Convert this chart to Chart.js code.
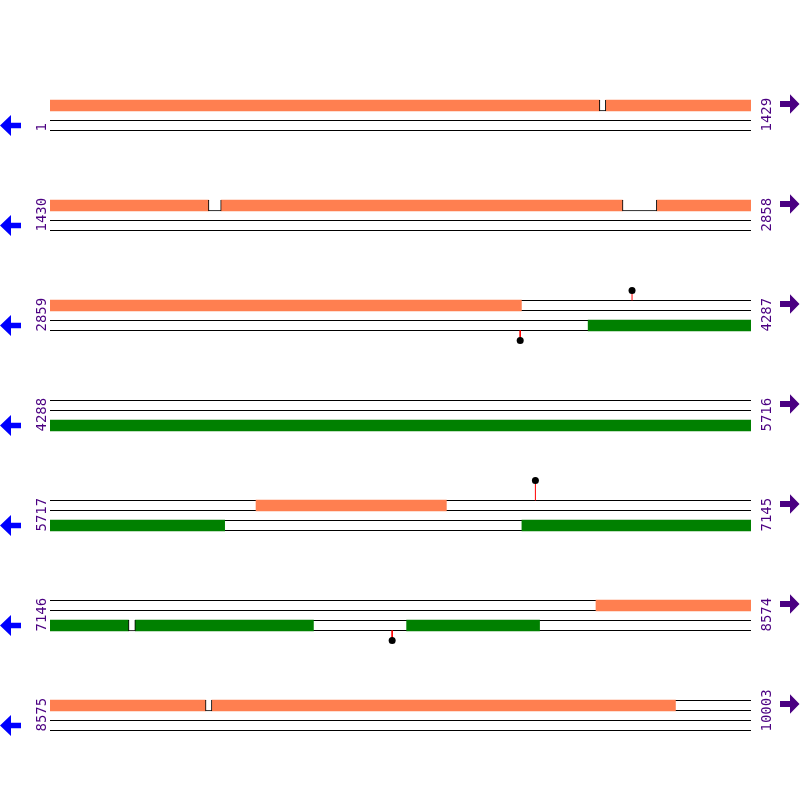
<!DOCTYPE html>
<html><head><meta charset="utf-8">
<script src="https://cdn.jsdelivr.net/npm/chart.js@4/dist/chart.umd.min.js"></script>
<style>html,body{margin:0;padding:0;background:#fff;}canvas{display:block;}</style>
</head><body>
<canvas id="c" width="800" height="800"></canvas>
<script>
// ---- data ----
const rowStarts = [1, 1430, 2859, 4288, 5717, 7146, 8575];
const rowEnds = [1429, 2858, 4287, 5716, 7145, 8574, 10003];
const forwardSegments = [[1,1120],[1134,1752],[1779,2596],[2667,3819],[6137,6524],[8259,8891],[8905,9849]];
const forwardGaps = [[1121,1133],[1753,1778],[2597,2666],[8892,8904]];
const reverseSegments = [[3956,6072],[6679,7305],[7320,7682],[7873,8143]];
const reverseGaps = [[7306,7319]];
const markerPositions = [4045, 3817, 6706, 7843];
const markerStrands = ['+', '-', '+', '-'];
const markerLevels = [1, 1, 2, 1];

const rowLength = rowEnds[0] - rowStarts[0] + 1;
const rowBase = r => 10 + 10 * r; // forward track top (y units)

function rowOf(p) { return rowStarts.findIndex((s, i) => p >= s && p <= rowEnds[i]); }

function toBars(segs, offset) {
  const out = [];
  rowStarts.forEach((R, r) => {
    const E = rowEnds[r];
    segs.forEach(([s, e]) => {
      const a = Math.max(s, R), b = Math.min(e, E);
      if (a <= b) out.push({ x: [a - R, b - R + 1], y: rowBase(r) + offset });
    });
  });
  return out;
}

const trackLines = [];
rowStarts.forEach((R, r) => {
  [0, 1, 2, 3].forEach(k => {
    trackLines.push({ x: [0, rowLength], y: rowBase(r) + k });
  });
});

const stems = [], dots = [];
markerPositions.forEach((p, i) => {
  const r = rowOf(p);
  const xv = p - rowStarts[r] + 0.5;
  let y0, y1;
  if (markerStrands[i] === '+') { y0 = rowBase(r); y1 = y0 - markerLevels[i]; }
  else { y0 = rowBase(r) + 3; y1 = y0 + markerLevels[i]; }
  stems.push({ x: xv, y: y0 }, { x: xv, y: y1 }, { x: xv, y: null });
  dots.push({ x: xv, y: y1 });
});

const labelsPlugin = {
  id: 'rowLabels',
  afterDatasetsDraw(chart) {
    const { ctx, chartArea, scales: { y } } = chart;
    ctx.save();
    ctx.font = '14px "DejaVu Sans Mono", monospace';
    rowStarts.forEach((s, r) => {
      const base = rowBase(r);
      const yBottom = y.getPixelForValue(base + 3) + 1;
      ctx.fillStyle = '#4B0082';
      ctx.textAlign = 'left'; ctx.textBaseline = 'alphabetic';
      ctx.save(); ctx.translate(chartArea.left - 4, yBottom); ctx.rotate(-Math.PI / 2);
      ctx.fillText(String(s), 0, 0); ctx.restore();
      ctx.save(); ctx.translate(chartArea.right + 20, yBottom); ctx.rotate(-Math.PI / 2);
      ctx.fillText(String(rowEnds[r]), 0, 0); ctx.restore();
      // left (reverse strand) arrow
      const yr = y.getPixelForValue(base + 2.5);
      const lx = chartArea.left - 50;
      ctx.fillStyle = '#0000FF';
      ctx.beginPath();
      ctx.moveTo(lx, yr); ctx.lineTo(lx + 11, yr - 10.5); ctx.lineTo(lx + 11, yr - 2.75);
      ctx.lineTo(lx + 21, yr - 2.75); ctx.lineTo(lx + 21, yr + 2.75); ctx.lineTo(lx + 11, yr + 2.75);
      ctx.lineTo(lx + 11, yr + 10.5); ctx.closePath(); ctx.fill();
      // right (forward strand) arrow
      const yf = y.getPixelForValue(base + 0.5) - 1.5;
      const rx = chartArea.right + 29;
      ctx.fillStyle = '#4B0082';
      ctx.beginPath();
      ctx.moveTo(rx + 19.5, yf); ctx.lineTo(rx + 10, yf - 9.7); ctx.lineTo(rx + 10, yf - 3);
      ctx.lineTo(rx, yf - 3); ctx.lineTo(rx, yf + 3); ctx.lineTo(rx + 10, yf + 3);
      ctx.lineTo(rx + 10, yf + 9.7); ctx.closePath(); ctx.fill();
    });
    ctx.restore();
  }
};

const barCommon = { type: 'bar', indexAxis: 'y', grouped: false, barThickness: 11, borderSkipped: false };
const gapBorder = { left: 1, right: 1, bottom: 1, top: 0 };

new Chart(document.getElementById('c'), {
  type: 'bar',
  data: {
    datasets: [
      { type: 'line', data: dots, showLine: false, pointRadius: 3.5, pointBackgroundColor: '#000', pointBorderWidth: 0, order: 0 },
      { type: 'line', data: stems, borderColor: '#FF0000', borderWidth: 1, pointRadius: 0, spanGaps: false, order: 1 },
      Object.assign({}, barCommon, { data: toBars(forwardGaps, 0.5), backgroundColor: '#FFFFFF', borderColor: '#000000', borderWidth: gapBorder, order: 2 }),
      Object.assign({}, barCommon, { data: toBars(reverseGaps, 2.5), backgroundColor: '#FFFFFF', borderColor: '#000000', borderWidth: gapBorder, order: 2 }),
      Object.assign({}, barCommon, { data: toBars(forwardSegments, 0.5), backgroundColor: '#FF7F50', borderWidth: 0, order: 3 }),
      Object.assign({}, barCommon, { data: toBars(reverseSegments, 2.5), backgroundColor: '#008000', borderWidth: 0, order: 3 }),
      { type: 'bar', indexAxis: 'y', grouped: false, barThickness: 1, borderWidth: 0, inflateAmount: 0, data: trackLines, backgroundColor: '#000000', order: 4 }
    ]
  },
  options: {
    responsive: false,
    animation: false,
    events: [],
    layout: { autoPadding: false, padding: { left: 50, right: 49, top: 0, bottom: 0 } },
    plugins: { legend: { display: false }, tooltip: { enabled: false } },
    scales: {
      x: { type: 'linear', min: 0, max: rowLength, display: false, offset: false },
      y: { type: 'linear', min: -0.05, max: 79.95, reverse: true, display: false, offset: false }
    }
  },
  plugins: [labelsPlugin]
});
</script>
</body></html>
